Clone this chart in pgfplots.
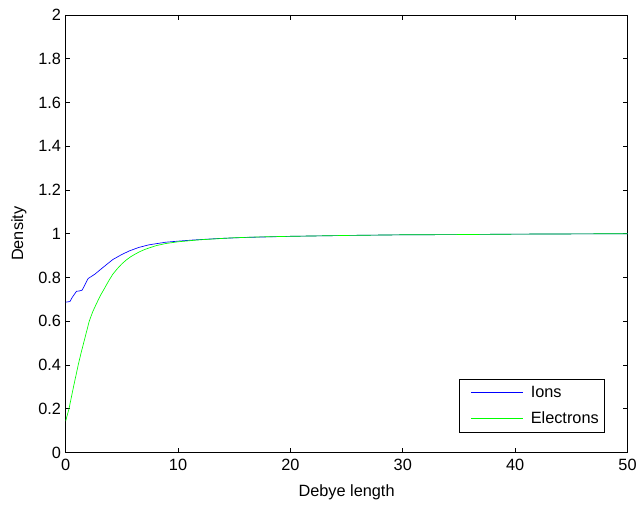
\documentclass[border=0pt]{standalone}
\usepackage{pgfplots}
\pgfplotsset{compat=1.18}
\usepackage{fontspec}
\setmainfont{Liberation Sans}
\definecolor{ionblue}{RGB}{0,0,255}
\definecolor{elgreen}{RGB}{0,255,0}

\begin{document}
\begin{tikzpicture}
\begin{axis}[at={(0,0)},anchor=south west,
  scale only axis,width=423.75pt,height=330pt,
  xmin=0,xmax=50,ymin=0,ymax=2,
  xtick={0,10,20,30,40,50},
  ytick={0,0.2,0.4,0.6,0.8,1,1.2,1.4,1.6,1.8,2},
  yticklabels={0,0.2,0.4,0.6,0.8,1,1.2,1.4,1.6,1.8,2},
  xticklabels={0,10,20,30,40,50},
  tick align=inside,tick pos=both,major tick length=3.5pt,
  tick style={black,line width=0.5pt},
  axis line style={line width=0.5pt},
  font=\fontsize{12.3}{13.5}\selectfont,
  tick label style={font=\fontsize{12.3}{13.5}\selectfont},
  xticklabel style={yshift=-1.5pt},
  xlabel={Debye length},ylabel={Density},
  xlabel style={yshift=-4pt},
  ylabel style={yshift=2pt},
  legend style={at={(0.96,0.045)},anchor=south east,draw=black,
    line width=0.5pt,font=\fontsize{12.3}{13.5}\selectfont,
    legend cell align=left,inner xsep=2.5pt,inner ysep=3.5pt,row sep=5pt},
  legend image code/.code={\path[draw=none] (-6pt,0pt) -- (43pt,0pt);
    \draw[#1] (0pt,0pt) -- (39pt,0pt);},
]
\addplot[ionblue,line width=0.5pt] coordinates {
(0,0.687)(0.38,0.69)(0.6,0.71)(0.97,0.737)(1.2,0.738)(1.47,0.742)(1.7,0.765)(2.0,0.795)
(2.6,0.815)(3.33,0.846)(4.2,0.882)(5.0,0.905)(5.7,0.922)(6.5,0.937)(7.4,0.949)
(8.9,0.961)(10,0.966)(11.3,0.971)(13.6,0.978)(16,0.983)(20,0.988)(25,0.992)
(30,0.995)(35,0.996)(40,0.998)(45,0.999)(50,1.0)};
\addlegendentry{Ions}
\addplot[elgreen,line width=0.5pt] coordinates {
(0,0.143)(0.3,0.2)(0.7,0.3)(1.12,0.4)(1.35,0.45)(1.6,0.5)(1.85,0.55)(2.1,0.6)
(2.4,0.642)(2.74,0.68)(3.1,0.718)(3.48,0.752)(3.85,0.786)(4.2,0.815)(4.6,0.84)
(5.0,0.862)(5.4,0.88)(5.8,0.895)(6.2,0.907)(6.6,0.918)(7.0,0.927)(7.43,0.935)
(8.1,0.946)(8.9,0.955)(10,0.963)(11.9,0.972)(14.8,0.981)(17,0.985)(20,0.988)
(25,0.992)(30,0.995)(35,0.996)(40,0.998)(45,0.999)(50,1.0)};
\addlegendentry{Electrons}
\end{axis}
\path[use as bounding box] (-49.5pt,-37.5pt) rectangle (431.25pt,341.25pt);
\end{tikzpicture}
\end{document}
